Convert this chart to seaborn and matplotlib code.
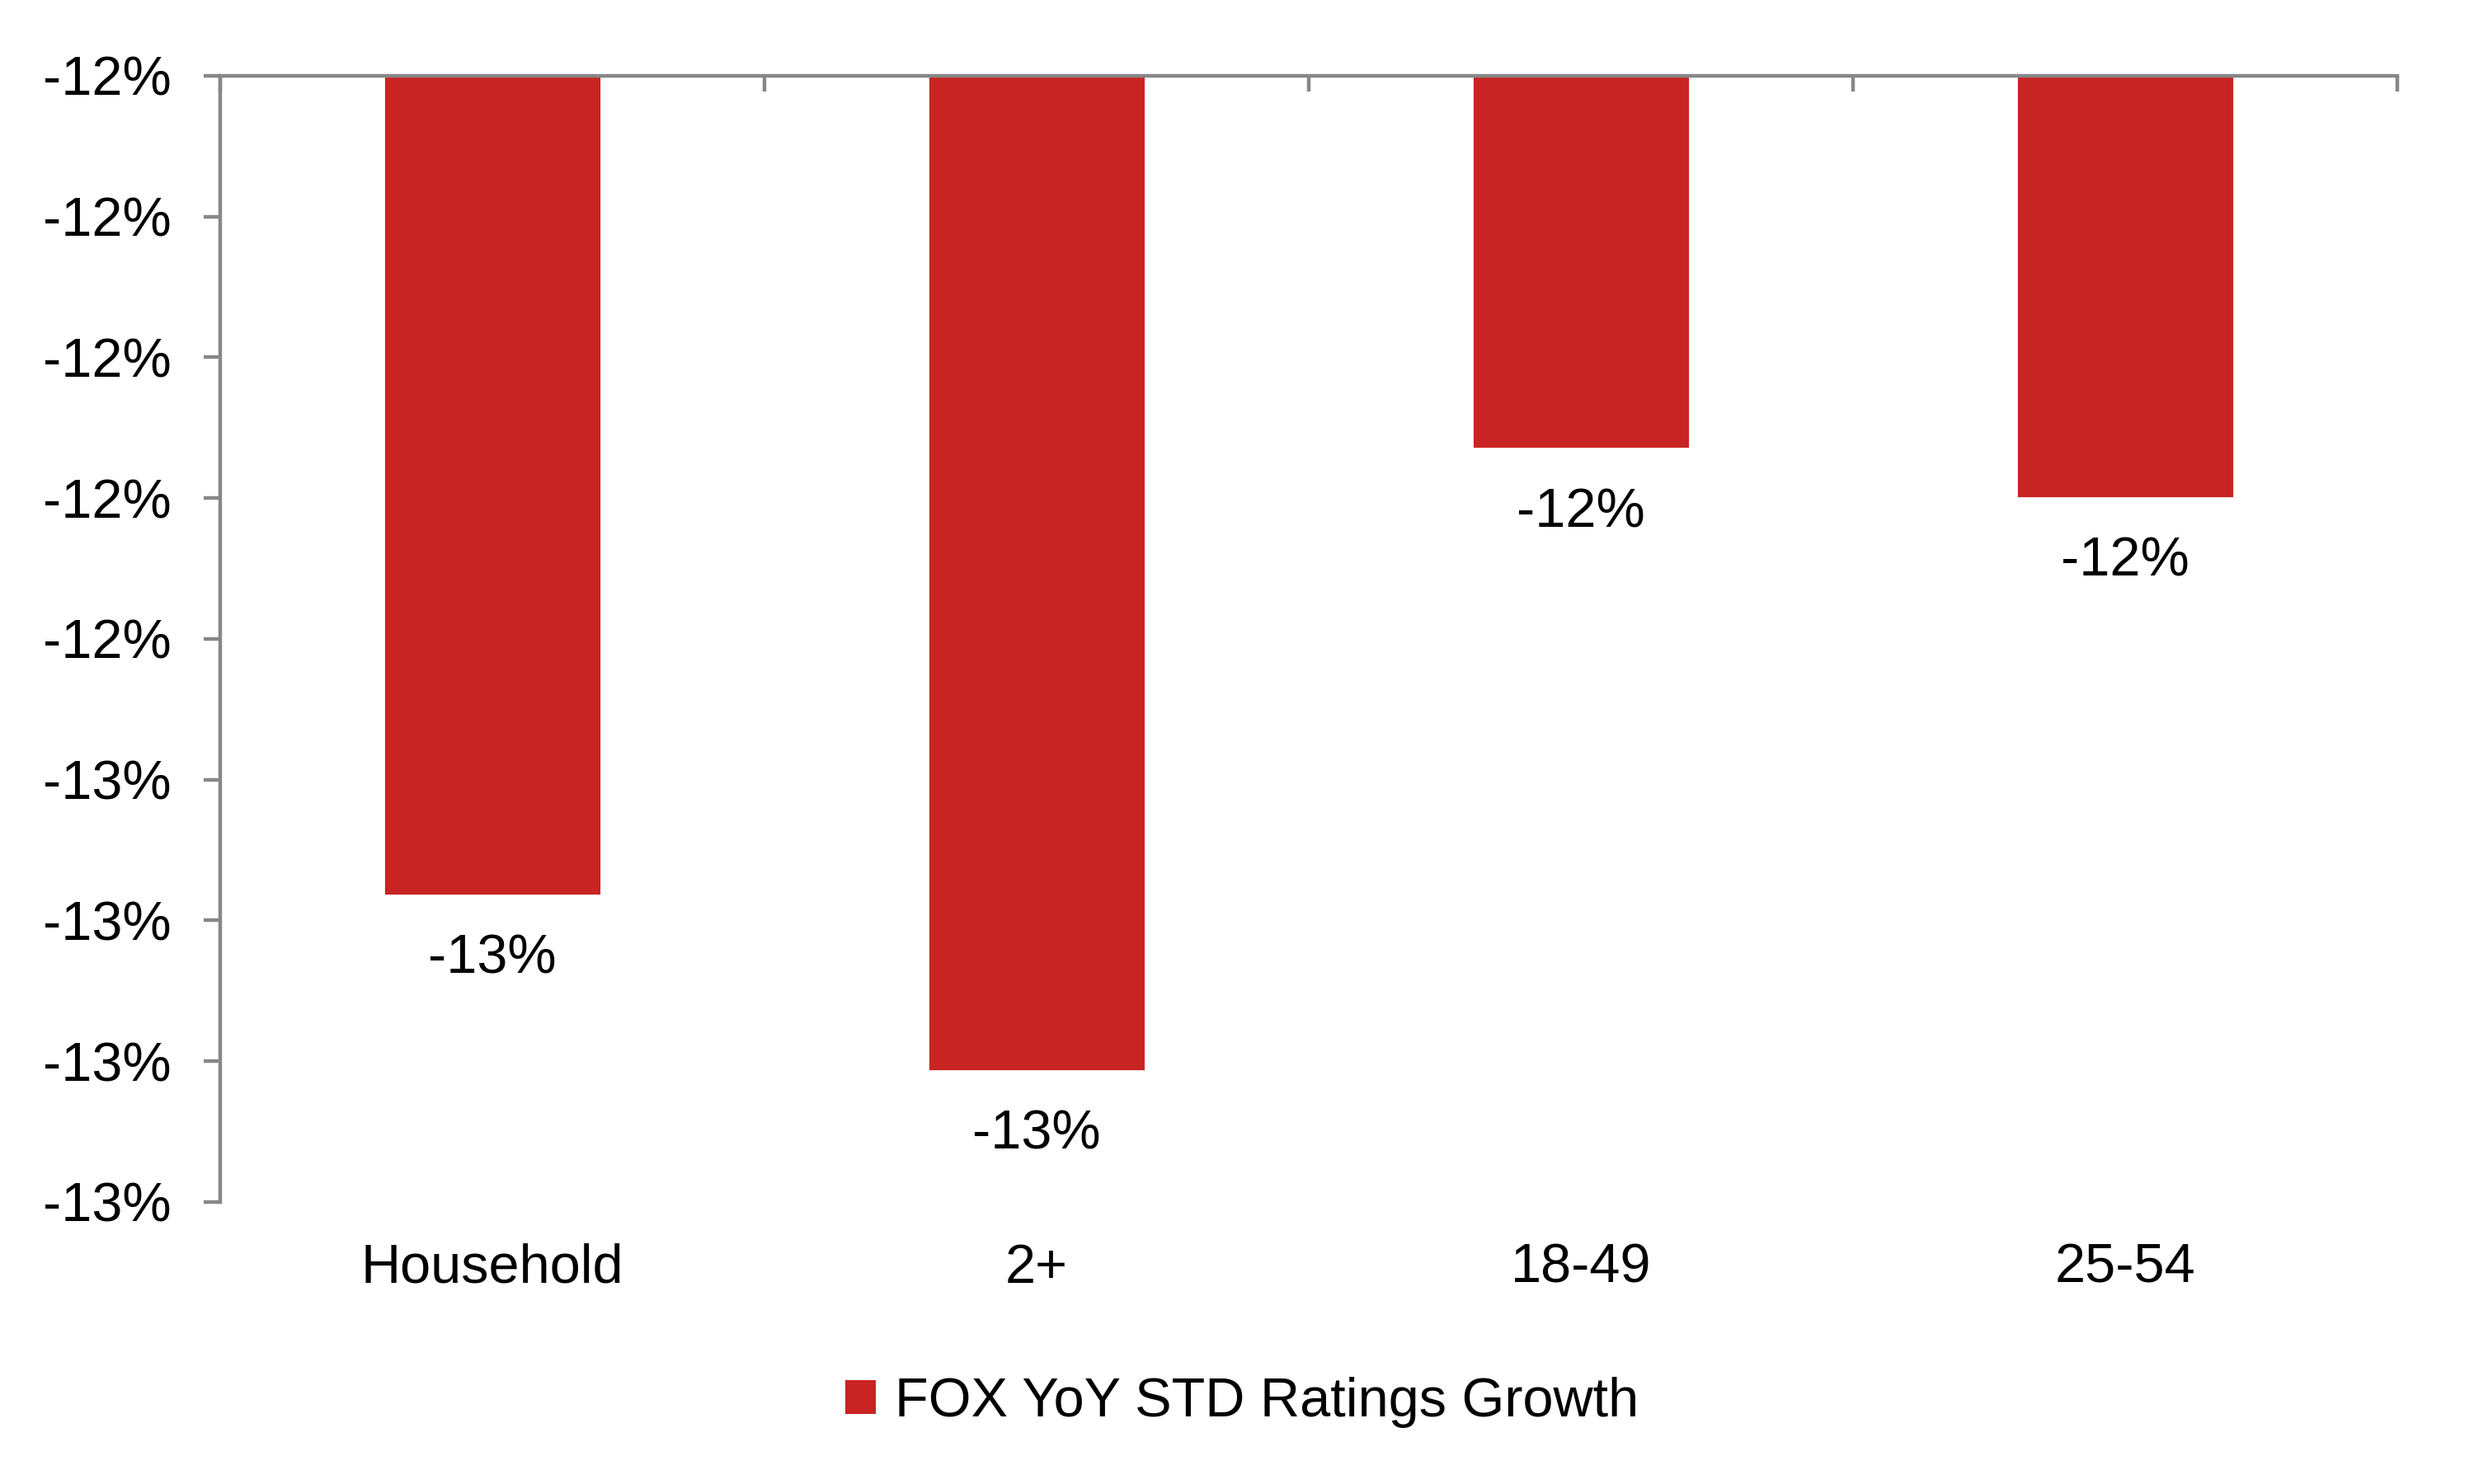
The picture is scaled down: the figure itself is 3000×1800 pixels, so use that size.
import pandas as pd
import numpy as np
import matplotlib.pyplot as plt
import seaborn as sns
from matplotlib.patches import Patch

# Chart data
groups = ['Household', '2+', '18-49', '25-54']
growth = [-12.582, -12.707, -12.265, -12.30]
value_labels = ['-13%', '-13%', '-12%', '-12%']
series_name = 'FOX YoY STD Ratings Growth'

yticks = [-12.8, -12.7, -12.6, -12.5, -12.4, -12.3, -12.2, -12.1, -12.0]
ytick_labels = ['-13%', '-13%', '-13%', '-13%', '-12%', '-12%', '-12%', '-12%', '-12%']

bar_color = '#C82423'
axis_color = '#878787'

df = pd.DataFrame({'group': groups, 'growth': growth})

sns.set_style('white')
plt.rcParams['font.family'] = ['Liberation Sans', 'DejaVu Sans']
plt.rcParams['text.color'] = 'black'

fig, ax = plt.subplots(figsize=(15, 9), dpi=200)
fig.subplots_adjust(left=0.089, right=0.969, top=0.949, bottom=0.19)

sns.barplot(data=df, x='group', y='growth', color=bar_color, saturation=1,
            width=0.4, ax=ax)

ax.set_xlim(-0.5, len(groups) - 0.5)
ax.set_ylim(-12.8, -12.0)

# Value labels under each bar end
for i, (v, lab) in enumerate(zip(growth, value_labels)):
    ax.annotate(lab, xy=(i, v), xytext=(0, -28), textcoords='offset points',
                ha='center', va='center', fontsize=24, color='black')

# Axes styling
for side in ['right', 'bottom']:
    ax.spines[side].set_visible(False)
for side in ['left', 'top']:
    ax.spines[side].set_color(axis_color)
    ax.spines[side].set_linewidth(1.6)

ax.set_yticks(yticks)
ax.set_yticklabels(ytick_labels)
ax.tick_params(axis='y', which='major', direction='out', length=7.2, width=1.6,
               color=axis_color, labelcolor='black', labelsize=24, pad=14, left=True)

ax.set_xticks(range(len(groups)))
ax.set_xticklabels(groups)
ax.tick_params(axis='x', which='major', length=0, labelsize=24, pad=18,
               labelcolor='black')
ax.set_xticks(np.arange(-0.5, len(groups)), minor=True)
ax.tick_params(axis='x', which='minor', top=True, bottom=False, direction='in',
               length=7, width=1.6, color=axis_color)

ax.set_xlabel('')
ax.set_ylabel('')

handle = Patch(facecolor=bar_color, edgecolor='none', label=series_name)
leg = fig.legend(handles=[handle], loc='center', bbox_to_anchor=(0.502, 0.055),
                 frameon=False, fontsize=24, handlelength=0.55, handleheight=0.55,
                 handletextpad=0.35)
for t in leg.get_texts():
    t.set_color('black')

plt.savefig('out.png', dpi=200)
